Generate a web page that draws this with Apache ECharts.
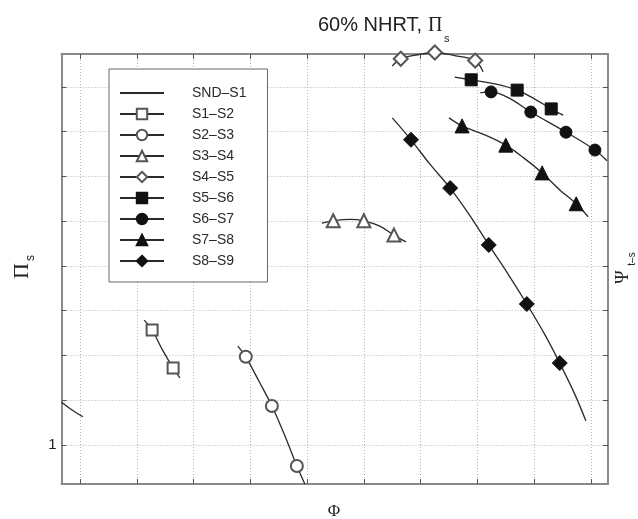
<!DOCTYPE html>
<html>
<head>
<meta charset="utf-8">
<script src="https://cdn.jsdelivr.net/npm/echarts@6/dist/echarts.min.js"></script>
<style>
  html, body { margin: 0; padding: 0; background: #fff; }
  #chart { width: 638px; height: 519px; }
</style>
</head>
<body>
<div id="chart"></div>
<script>
// 60% NHRT の段ごとの特性（Φ - Π_s）
// 曲線の通過点と、マーカー位置を分けて持つ
const stageNames = ['SND–S1', 'S1–S2', 'S2–S3', 'S3–S4', 'S4–S5', 'S5–S6', 'S6–S7', 'S7–S8', 'S8–S9'];

const sndS1Line = [[0.67, 1.96], [0.86, 1.78], [1.05, 1.63]];
const sndS1Marks = [];
const s1s2Line = [[2.13, 3.79], [2.45, 3.13], [2.76, 2.50]];
const s1s2Marks = [[2.27, 3.57], [2.64, 2.72]];
const s2s3Line = [[3.78, 3.21], [4.15, 2.43], [4.61, 1.20], [4.96, 0.13]];
const s2s3Marks = [[3.92, 2.97], [4.38, 1.87], [4.82, 0.53]];
const s3s4Line = [[5.26, 5.96], [5.76, 6.04], [6.28, 5.89], [6.74, 5.54]];
const s3s4Marks = [[5.46, 6.01], [6.00, 6.01], [6.53, 5.69]];
const s4s5Line = [[6.50, 9.47], [6.95, 9.72], [7.60, 9.70], [8.10, 9.34]];
const s4s5Marks = [[6.65, 9.63], [7.25, 9.77], [7.96, 9.59]];
const s5s6Line = [[7.60, 9.22], [8.31, 9.07], [9.01, 8.73], [9.51, 8.37]];
const s5s6Marks = [[7.89, 9.16], [8.70, 8.93], [9.30, 8.51]];
const s6s7Line = [[8.05, 8.87], [8.59, 8.73], [10.28, 7.35]];
const s6s7Marks = [[8.24, 8.89], [8.94, 8.44], [9.56, 7.99], [10.07, 7.59]];
const s7s8Line = [[7.50, 8.31], [8.13, 7.93], [8.82, 7.41], [9.45, 6.70], [9.95, 6.10]];
const s7s8Marks = [[7.73, 8.13], [8.50, 7.70], [9.14, 7.08], [9.74, 6.39]];
const s8s9Line = [[6.50, 8.31], [7.16, 7.28], [7.87, 6.12], [8.54, 4.82], [9.19, 3.46], [9.72, 2.12], [9.91, 1.54]];
const s8s9Marks = [[6.83, 7.82], [7.52, 6.74], [8.20, 5.47], [8.87, 4.15], [9.45, 2.83]];

const xTicks = [1, 2, 3, 4, 5, 6, 7, 8, 9, 10];
const yTicks = [1, 2, 3, 4, 5, 6, 7, 8, 9];
const yLabelTicks = [1];

const lines = [sndS1Line, s1s2Line, s2s3Line, s3s4Line, s4s5Line, s5s6Line, s6s7Line, s7s8Line, s8s9Line];
const marks = [sndS1Marks, s1s2Marks, s2s3Marks, s3s4Marks, s4s5Marks, s5s6Marks, s6s7Marks, s7s8Marks, s8s9Marks];

// マーカー形状（白抜き4種・塗り4種）
const SYMBOLS = ['none', 'emptyRect', 'emptyCircle', 'emptyTriangle', 'emptyDiamond', 'rect', 'circle', 'triangle', 'diamond'];
const SIZES = [0, 11, 12, 13, 14, 12, 12, 14, 15];
const LINE = '#2a2a2a';
const FRAME = '#8a8a8a';
const GRIDC = '#b5b5b5';
const SANS = '"Liberation Sans", Arial, sans-serif';
const SERIF = '"Liberation Serif", "DejaVu Serif", serif';

// 曲線点とマーカー点をΦ順にまとめ、マーカー点だけ記号を出す
function buildData(line, mk) {
  const pts = line.map((p) => ({ value: p, symbol: 'none' }))
    .concat(mk.map((p) => ({ value: p })));
  pts.sort((a, b) => a.value[0] - b.value[0]);
  return pts;
}

const series = stageNames.map((name, i) => {
  const hollow = SYMBOLS[i].indexOf('empty') === 0;
  return {
    name,
    type: 'line',
    data: buildData(lines[i], marks[i]),
    symbol: SYMBOLS[i],
    symbolSize: SIZES[i],
    showAllSymbol: true,
    smooth: 0.35,
    clip: false,
    z: 3,
    lineStyle: { color: LINE, width: 1.3 },
    itemStyle: hollow
      ? { color: '#555', borderColor: '#555', borderWidth: 1.2 }
      : { color: '#111', borderColor: '#111', borderWidth: 1 },
    emphasis: { disabled: true },
    animation: false,
  };
});

// 凡例：SND–S1 は線のみ（記号を消す）
const legendData = stageNames.map((name, i) => (SYMBOLS[i] === 'none'
  ? { name, itemStyle: { opacity: 0 } }
  : name));

const frameAxis = (pos) => ({
  type: 'value',
  position: pos,
  axisLine: { show: true, onZero: false, lineStyle: { color: FRAME, width: 2 } },
  axisTick: { show: true, inside: true, length: 5, lineStyle: { color: '#555', width: 1 } },
  axisLabel: { show: false },
  splitLine: { show: false },
});

const chart = echarts.init(document.getElementById('chart'), null, { renderer: 'canvas' });
chart.setOption({
  backgroundColor: '#fff',
  animation: false,
  grid: { left: 61.5, right: 30, top: 54, bottom: 35 },
  xAxis: [
    {
      ...frameAxis('bottom'),
      min: 0.674, max: 10.30,
      axisTick: { show: true, inside: true, length: 5, customValues: xTicks, lineStyle: { color: '#555' } },
      splitLine: { show: true, lineStyle: { color: GRIDC, type: [1, 2], width: 1 } },
    },
    { ...frameAxis('top'), min: 0.674, max: 10.30,
      axisTick: { show: true, inside: true, length: 5, customValues: xTicks, lineStyle: { color: '#555' } } },
  ],
  yAxis: [
    {
      ...frameAxis('left'),
      min: 0.128, max: 9.737,
      axisTick: { show: true, inside: true, length: 5, customValues: yTicks, lineStyle: { color: '#555' } },
      axisLabel: {
        show: true, customValues: yLabelTicks, margin: 5,
        color: '#222', fontSize: 15, fontFamily: SANS,
      },
      splitLine: { show: true, lineStyle: { color: GRIDC, type: [1, 2], width: 1 } },
    },
    { ...frameAxis('right'), min: 0.128, max: 9.737,
      axisTick: { show: true, inside: true, length: 5, customValues: yTicks, lineStyle: { color: '#555' } } },
  ],
  legend: {
    orient: 'vertical',
    left: 109,
    top: 69,
    data: legendData,
    selectedMode: false,
    itemWidth: 44,
    itemHeight: 13,
    itemGap: 7,
    padding: [17, 21, 14, 10],
    borderColor: '#666',
    borderWidth: 1,
    backgroundColor: '#fff',
    textStyle: { color: '#2a2a2a', fontSize: 14, fontFamily: SANS, padding: [0, 0, 0, 23] },
  },
  graphic: [
    { type: 'text', x: 318, y: 35, style: { text: '60% NHRT,', font: '20px ' + SANS, fill: '#222', align: 'left', verticalAlign: 'bottom' } },
    { type: 'text', x: 428, y: 36, style: { text: 'Π', font: '20px ' + SERIF, fill: '#222', align: 'left', verticalAlign: 'bottom' } },
    { type: 'text', x: 444, y: 44, style: { text: 's', font: '11px ' + SANS, fill: '#222', align: 'left', verticalAlign: 'bottom' } },
    { type: 'text', x: 22, y: 271, rotation: Math.PI / 2, style: { text: 'Π', font: '22px ' + SERIF, fill: '#222', align: 'center', verticalAlign: 'middle' } },
    { type: 'text', x: 31, y: 258, rotation: Math.PI / 2, style: { text: 's', font: '12px ' + SANS, fill: '#222', align: 'center', verticalAlign: 'middle' } },
    { type: 'text', x: 623, y: 277, rotation: Math.PI / 2, style: { text: 'Ψ', font: '18px ' + SERIF, fill: '#222', align: 'center', verticalAlign: 'middle' } },
    { type: 'text', x: 632, y: 259, rotation: Math.PI / 2, style: { text: 't–s', font: '10px ' + SANS, fill: '#222', align: 'center', verticalAlign: 'middle' } },
    { type: 'text', x: 334, y: 512, style: { text: 'Φ', font: '17px ' + SERIF, fill: '#222', align: 'center', verticalAlign: 'middle' } },
  ],
  series,
});
</script>
</body>
</html>
